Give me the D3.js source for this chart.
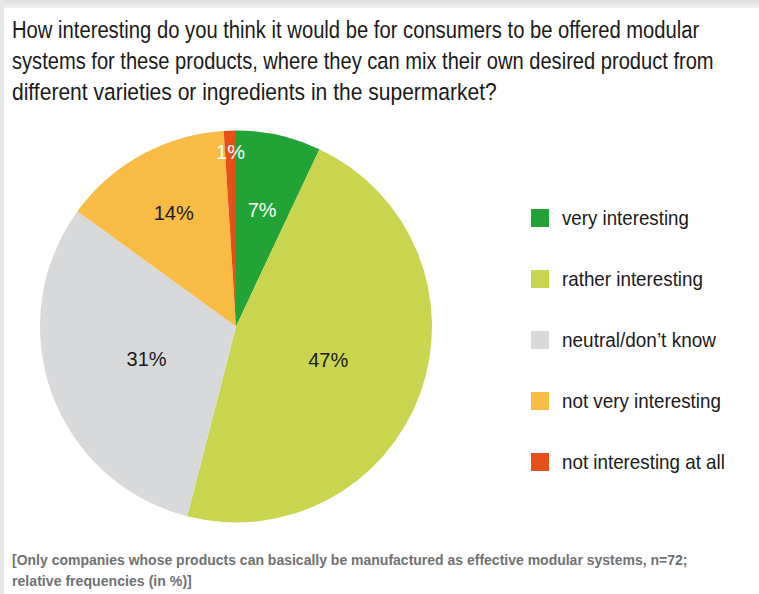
<!DOCTYPE html>
<html>
<head>
<meta charset="utf-8">
<script src="https://cdn.jsdelivr.net/npm/d3@7/dist/d3.min.js"></script>
<style>
  html, body { margin: 0; padding: 0; background: #ffffff; }
  svg { display: block; }
</style>
</head>
<body>
<script>
// Survey answers, clockwise from 12 o'clock
const categories = ["very interesting", "rather interesting", "neutral/don\u2019t know", "not very interesting", "not interesting at all"];
const values = [7, 47, 31, 14, 1];
const valueLabels = ["7%", "47%", "31%", "14%", "1%"];
const colors = ["#21a336", "#c9d54f", "#d8d9db", "#f8bb44", "#e85019"];
const labelColors = ["#ffffff", "#1a1a1a", "#1a1a1a", "#1a1a1a", "#ffffff"];

const titleLines = [
  "How interesting do you think it would be for consumers to be offered modular",
  "systems for these products, where they can mix their own desired product from",
  "different varieties or ingredients in the supermarket?"
];
const noteLines = [
  "[Only companies whose products can basically be manufactured as effective modular systems, n=72;",
  "relative frequencies (in %)]"
];

const W = 759, H = 594;
const svg = d3.select("body").append("svg").attr("width", W).attr("height", H);

// Panel frame: light grey strip along the top and left edges
const defs = svg.append("defs");
const grad = defs.append("linearGradient").attr("id", "topShade").attr("x1", 0).attr("y1", 0).attr("x2", 0).attr("y2", 1);
grad.append("stop").attr("offset", "0%").attr("stop-color", "#dedede");
grad.append("stop").attr("offset", "100%").attr("stop-color", "#f3f3f3");
svg.append("rect").attr("x", 0).attr("y", 0).attr("width", W).attr("height", 9).attr("fill", "url(#topShade)");
svg.append("rect").attr("x", 0).attr("y", 0).attr("width", 4).attr("height", H).attr("fill", "#e6e6e6");
svg.append("rect").attr("x", 4).attr("y", 8).attr("width", W - 4).attr("height", H - 8).attr("fill", "#ffffff");

const font = "'Liberation Sans', Arial, sans-serif";

// Condense a text horizontally so that it spans the given width
function fitWidth(sel, xs, ys, widths) {
  sel.each(function (d, i) {
    const w = this.getComputedTextLength();
    const k = widths[i] / w;
    d3.select(this).attr("transform", `translate(${xs(i)},${ys(i)}) scale(${k},1)`);
  });
}

// Title
const titleWidths = [688, 702, 485];
const title = svg.append("g").selectAll("text").data(titleLines).join("text")
  .attr("font-family", font)
  .attr("font-size", 23.5)
  .attr("fill", "#1a1a1a")
  .text(d => d);
fitWidth(title, () => 12, i => 38 + i * 31, titleWidths);

// Pie
const cx = 236, cy = 326.5, R = 196;
const pie = d3.pie().sort(null).value(d => d)(values);
const arc = d3.arc().innerRadius(0).outerRadius(R);
const g = svg.append("g").attr("transform", `translate(${cx},${cy})`);
g.selectAll("path").data(pie).join("path")
  .attr("d", arc)
  .attr("fill", (d, i) => colors[i]);

// Slice labels sit at differing distances from the centre
const labelRadius = [0.61, 0.5, 0.485, 0.66, 0.89];
g.selectAll("text").data(pie).join("text")
  .attr("transform", (d, i) => {
    const a = (d.startAngle + d.endAngle) / 2;
    const r = R * labelRadius[i];
    return `translate(${r * Math.sin(a)},${-r * Math.cos(a)})`;
  })
  .attr("text-anchor", "middle")
  .attr("dy", "0.36em")
  .attr("font-family", font)
  .attr("font-size", 20)
  .attr("fill", (d, i) => labelColors[i])
  .text((d, i) => valueLabels[i]);

// Legend
const legendWidths = [127, 141, 154, 159, 163];
const lg = svg.append("g").attr("transform", "translate(531,209)");
const item = lg.selectAll("g").data(categories).join("g")
  .attr("transform", (d, i) => `translate(0,${i * 61})`);
item.append("rect").attr("width", 18).attr("height", 18).attr("fill", (d, i) => colors[i]);
const legendText = item.append("text")
  .attr("font-family", font)
  .attr("font-size", 20)
  .attr("fill", "#1a1a1a")
  .text(d => d);
fitWidth(legendText, () => 31, () => 16, legendWidths);

// Footnote
const noteWidths = [676, 180];
const note = svg.append("g").selectAll("text").data(noteLines).join("text")
  .attr("font-family", font)
  .attr("font-size", 15)
  .attr("font-weight", "bold")
  .attr("fill", "#707172")
  .text(d => d);
fitWidth(note, () => 12, i => 565 + i * 21, noteWidths);
</script>
</body>
</html>
